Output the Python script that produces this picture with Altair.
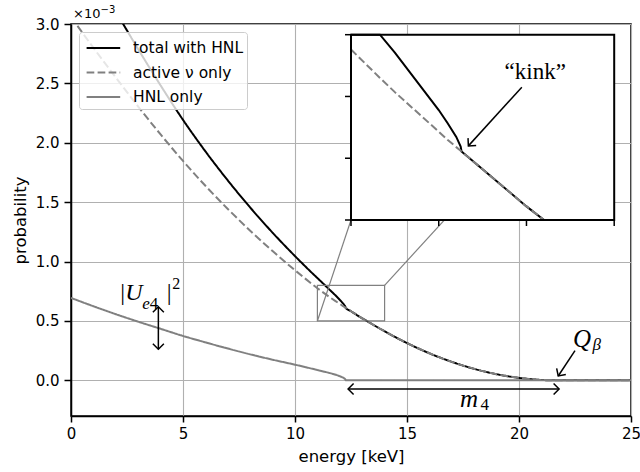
import math
import altair as alt
import pandas as pd

# ---- spectra (probability in units of 1e-3) on a common energy grid [keV] ----
energy = [0, 1, 2, 3, 4, 5, 6, 7, 8, 9,
          10, 10.5, 11, 11.33, 11.5, 12, 12.1, 12.2, 12.25, 12.26,
          12.5, 13, 13.2, 13.5, 14, 15, 16, 17, 18, 19,
          20, 21, 21.7, 22, 25]
total = [3.776, 3.436, 3.106, 2.788, 2.483, 2.193, 1.928, 1.683, 1.455, 1.243,
         1.046, 0.952, 0.861, 0.802, 0.771, 0.678, 0.657, 0.6345, 0.619, 0.611,
         0.582, 0.522, 0.500, 0.467, 0.413, 0.314, 0.228, 0.156, 0.097, 0.052,
         0.021, 0.0035, 0, 0, 0]
active = [3.06, 2.80, 2.55, 2.305, 2.07, 1.847, 1.638, 1.443, 1.26, 1.088,
          0.927, 0.85, 0.776, 0.730, 0.707, 0.643, 0.630, 0.618, 0.612, 0.611,
          0.582, 0.522, 0.500, 0.467, 0.413, 0.314, 0.228, 0.156, 0.097, 0.052,
          0.021, 0.0035, 0, 0, 0]
hnl = [0.694, 0.624, 0.557, 0.494, 0.434, 0.374, 0.320, 0.268, 0.219, 0.174,
       0.132, 0.110, 0.087, 0.072, 0.064, 0.035, 0.027, 0.0165, 0.007, 0,
       0, 0, 0, 0, 0, 0, 0, 0, 0, 0,
       0, 0, 0, 0, 0]

series_names = ["total with HNL", "active ν only", "HNL only"]
series_colors = ["black", "gray", "gray"]
series_dashes = [[1, 0], [7.7, 3.3], [1, 0]]

x_ticks = [0, 5, 10, 15, 20, 25]
y_ticks = [0.0, 0.5, 1.0, 1.5, 2.0, 2.5, 3.0]
inset_x_ticks = [11, 12, 13, 14]
inset_y_ticks = [0.5, 0.6, 0.7, 0.8]

X_DOMAIN = [0, 25]
Y_DOMAIN = [-0.3, 3.0]
ZOOM_X = [11, 14]          # region shown magnified
ZOOM_Y = [0.5, 0.8]
INSET_AT_X = [12.5, 24.25]  # where the magnified panel sits, in main-axis units
INSET_AT_Y = [1.35, 2.91]

W, H = 560, 392
FONT = "DejaVu Sans"
MATH = "Liberation Serif"


def px_x(v):
    return (v - X_DOMAIN[0]) / (X_DOMAIN[1] - X_DOMAIN[0]) * W


def px_y(v):
    return (Y_DOMAIN[1] - v) / (Y_DOMAIN[1] - Y_DOMAIN[0]) * H


inset_x_range = [px_x(INSET_AT_X[0]), px_x(INSET_AT_X[1])]
inset_y_range = [px_y(INSET_AT_Y[0]), px_y(INSET_AT_Y[1])]

# pixels per data unit, used to orient arrow heads
KX = W / (X_DOMAIN[1] - X_DOMAIN[0])
KY = H / (Y_DOMAIN[1] - Y_DOMAIN[0])
KX_IN = (inset_x_range[1] - inset_x_range[0]) / (ZOOM_X[1] - ZOOM_X[0])
KY_IN = (inset_y_range[0] - inset_y_range[1]) / (ZOOM_Y[1] - ZOOM_Y[0])

rows = []
for name, vals in zip(series_names, [total, active, hnl]):
    for i, (e, v) in enumerate(zip(energy, vals)):
        rows.append({"series": name, "energy": e, "prob": v, "idx": i})
spectra = pd.DataFrame(rows)

# ---- scales / axes ----
XS = alt.Scale(domain=X_DOMAIN, nice=False, zero=False)
YS = alt.Scale(domain=Y_DOMAIN, nice=False, zero=False)
AX_X = alt.Axis(values=x_ticks, format="d", title="energy [keV]", grid=True, labelFlush=False)
AX_Y = alt.Axis(values=y_ticks, format=".1f", title="probability", grid=True, labelFlush=False)
IXS = alt.Scale(domain=ZOOM_X, range=inset_x_range, clamp=True, nice=False, zero=False)
IYS = alt.Scale(domain=ZOOM_Y, range=inset_y_range, clamp=True, nice=False, zero=False)

color_scale = alt.Scale(domain=series_names, range=series_colors)
dash_scale = alt.Scale(domain=series_names, range=series_dashes)
LEGEND = alt.Legend(
    title=None, orient="top-left", offset=8,
    fillColor="rgba(255,255,255,0.8)", strokeColor="#cccccc", cornerRadius=3,
    padding=3, symbolType="M-0.7,0L2.1,0", symbolSize=576, symbolStrokeWidth=2,
    labelFont=FONT, labelFontSize=15.5, labelColor="black", labelOffset=25,
    rowPadding=2.5,
)


def mx(field="x"):
    return alt.X(f"{field}:Q", scale=XS, axis=AX_X)


def my(field="y"):
    return alt.Y(f"{field}:Q", scale=YS, axis=AX_Y)


def ix(field="x"):
    return alt.X(f"{field}:Q", scale=IXS, axis=None)


def iy(field="y"):
    return alt.Y(f"{field}:Q", scale=IYS, axis=None)


def curve(name):
    return alt.Chart(spectra).transform_filter(alt.datum.series == name).mark_line(
        clip=True, strokeWidth=2, interpolate="monotone"
    ).encode(
        x=mx("energy"), y=my("prob"),
        color=alt.Color("series:N", scale=color_scale, legend=LEGEND),
        strokeDash=alt.StrokeDash("series:N", scale=dash_scale, legend=LEGEND),
        order="idx:Q",
    )


CHEVRON = "M-1,1L0,0L1,1"


def head_angle(xs_, ys_, xt, yt, kx, ky):
    dxp = (xt - xs_) * kx
    dyp = -(yt - ys_) * ky
    return math.degrees(math.atan2(dxp, -dyp)) % 360


def arrows(segs, ex, ey, kx, ky):
    lines = pd.DataFrame([{"x": s[0], "y": s[1], "x2": s[2], "y2": s[3]} for s in segs])
    heads = []
    for x0, y0, x1, y1, both in segs:
        heads.append({"x": x1, "y": y1, "angle": head_angle(x0, y0, x1, y1, kx, ky)})
        if both:
            heads.append({"x": x0, "y": y0, "angle": head_angle(x1, y1, x0, y0, kx, ky)})
    heads = pd.DataFrame(heads)
    rule = alt.Chart(lines).mark_rule(color="black", strokeWidth=1.5).encode(
        x=ex("x"), y=ey("y"), x2="x2:Q", y2="y2:Q")
    tips = alt.Chart(heads).mark_point(
        shape=CHEVRON, filled=False, size=121, color="black", strokeWidth=1.5,
        opacity=1, strokeJoin="miter",
    ).encode(x=ex("x"), y=ey("y"), angle=alt.Angle("angle:Q", scale=None))
    return [rule, tips]


def math_label(ax_, ay_, pieces, ex, ey, align="left"):
    src = pd.DataFrame({"x": [ax_], "y": [ay_]})
    out = []
    for text, dx, dy, size, style in pieces:
        out.append(alt.Chart(src).mark_text(
            text=text, align=align, baseline="alphabetic", dx=dx, dy=dy,
            font=MATH, fontSize=size, fontStyle=style, color="black",
        ).encode(x=ex("x"), y=ey("y")))
    return out


# ---- main panel ----
zoom_box = pd.DataFrame({"x": [ZOOM_X[0]], "x2": [ZOOM_X[1]], "y": [ZOOM_Y[0]], "y2": [ZOOM_Y[1]]})
marker = alt.Chart(zoom_box).mark_rect(fillOpacity=0, stroke="gray", strokeWidth=1.2).encode(
    x=mx("x"), x2="x2:Q", y=my("y"), y2="y2:Q")
links = pd.DataFrame({
    "x": [ZOOM_X[0], ZOOM_X[1]], "y": [ZOOM_Y[0], ZOOM_Y[1]],
    "x2": [INSET_AT_X[0], INSET_AT_X[1]], "y2": [INSET_AT_Y[0], INSET_AT_Y[1]],
})
connectors = alt.Chart(links).mark_rule(color="gray", strokeWidth=1.2).encode(
    x=mx("x"), y=my("y"), x2="x2:Q", y2="y2:Q")

scale_note = pd.DataFrame({"x": [X_DOMAIN[0]], "y": [Y_DOMAIN[1]]})
exp_base = alt.Chart(scale_note).mark_text(
    text="×10", align="left", baseline="alphabetic", dx=2, dy=-6,
    font=FONT, fontSize=13, color="black").encode(x=mx("x"), y=my("y"))
exp_pow = alt.Chart(scale_note).mark_text(
    text="−3", align="left", baseline="alphabetic", dx=29.5, dy=-11.5,
    font=FONT, fontSize=10, color="black").encode(x=mx("x"), y=my("y"))

main_arrows = arrows([
    (3.9, 0.262, 3.9, 0.62, True),         # |U_e4|^2 scale
    (12.37, -0.072, 21.79, -0.072, True),  # m4 span
    (22.5, 0.25, 21.75, 0.037, False),     # endpoint Q_beta
], mx, my, KX, KY)

u_label = math_label(2.2, 0.677, [
    ("|", 0, 0, 24, "normal"), ("U", 5, 0, 24, "italic"),
    ("e", 22, 9, 17, "italic"), ("4", 29.5, 9, 17, "normal"),
    ("|", 46.5, 0, 24, "normal"), ("2", 52, -11, 16, "normal"),
], mx, my)
q_label = math_label(22.41, 0.285, [
    ("Q", 0, 0, 25, "italic"), ("β", 19.5, 3, 17, "italic"),
], mx, my)
m_label = math_label(17.37, -0.221, [
    ("m", 0, 0, 25, "italic"), ("4", 20.5, 3.5, 17, "normal"),
], mx, my)

main = alt.layer(
    curve(series_names[0]), curve(series_names[1]), curve(series_names[2]),
    marker, connectors, exp_base, exp_pow,
    *main_arrows, *u_label, *q_label, *m_label,
)

# ---- magnified panel ----
panel = alt.Chart(zoom_box).mark_rect(fill="white", strokeWidth=0).encode(
    x=ix("x"), x2="x2:Q", y=iy("y"), y2="y2:Q")
in_range = "datum.energy >= 11 && datum.energy <= 14"
in_total = alt.Chart(spectra).transform_filter(
    f"datum.series == '{series_names[0]}' && {in_range}"
).mark_line(color="black", strokeWidth=2).encode(
    x=ix("energy"), y=iy("prob"), order="idx:Q")
in_active = alt.Chart(spectra).transform_filter(
    f"datum.series == '{series_names[1]}' && {in_range}"
).mark_line(color="gray", strokeWidth=2, strokeDash=[7.7, 3.3]).encode(
    x=ix("energy"), y=iy("prob"), order="idx:Q")
frame = alt.Chart(zoom_box).mark_rect(fillOpacity=0, stroke="black", strokeWidth=2).encode(
    x=ix("x"), x2="x2:Q", y=iy("y"), y2="y2:Q")

ytick_df = pd.DataFrame({"y": inset_y_ticks, "x": ZOOM_X[0], "x2": ZOOM_X[0]})
xtick_df = pd.DataFrame({"x": inset_x_ticks, "y": ZOOM_Y[0], "y2": ZOOM_Y[0]})
in_yticks = alt.Chart(ytick_df).mark_rule(color="black", strokeWidth=1.5, x2Offset=-6).encode(
    x=ix("x"), x2="x2:Q", y=iy("y"))
in_xticks = alt.Chart(xtick_df).mark_rule(color="black", strokeWidth=1.5, y2Offset=6).encode(
    x=ix("x"), y=iy("y"), y2="y2:Q")

kink_arrow = arrows([(12.947, 0.715, 12.338, 0.620, False)], ix, iy, KX_IN, KY_IN)
kink_text = alt.Chart(pd.DataFrame({"x": [13.10], "y": [0.728]})).mark_text(
    text="“kink”", align="center", baseline="alphabetic",
    font=MATH, fontSize=23, color="black").encode(x=ix("x"), y=iy("y"))

inset = alt.layer(panel, in_total, in_active, frame, in_yticks, in_xticks,
                  *kink_arrow, kink_text)

chart = alt.layer(main, inset).resolve_scale(
    x="independent", y="independent"
).properties(
    width=W, height=H,
    autosize=alt.AutoSizeParams(type="none"),
    padding={"left": 71, "top": 24, "right": 9, "bottom": 56},
).configure_view(
    stroke="black", strokeWidth=1.5
).configure_axis(
    domainColor="black", domainWidth=1.5, tickColor="black", tickWidth=1.5,
    labelFont=FONT, labelFontSize=15, labelColor="black",
    titleFont=FONT, titleFontSize=16.5, titleFontWeight="normal", titleColor="black",
    gridColor="#b0b0b0", gridWidth=1.1,
).configure_axisX(
    tickSize=6, labelPadding=4, titlePadding=7,
).configure_axisY(
    tickSize=7, labelPadding=5, titlePadding=7,
)

chart.save("out.html", embed_options={"renderer": "svg", "actions": False})
